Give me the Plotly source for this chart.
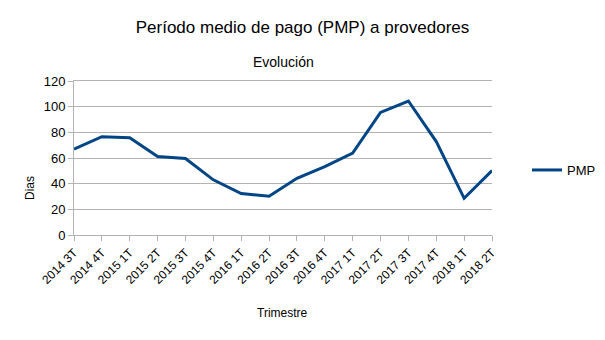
import plotly.graph_objects as go

trimestres = ["2014 3T", "2014 4T", "2015 1T", "2015 2T", "2015 3T", "2015 4T",
              "2016 1T", "2016 2T", "2016 3T", "2016 4T", "2017 1T", "2017 2T",
              "2017 3T", "2017 4T", "2018 1T", "2018 2T"]
pmp = [67.0, 76.6, 75.8, 61.2, 59.6, 43.0, 32.3, 30.2, 44.2, 53.3, 63.8, 95.5,
       104.4, 72.8, 28.6, 50.2]

FONT = "Liberation Sans, Arial, sans-serif"
grid = "#b3b3b3"
L, R, T, B = 74, 113, 81, 105
PW, PH = 605 - L - R, 340 - T - B

def px_x(x):
    return (x - L) / PW

def px_y(y):
    return (340 - B - y) / PH

fig = go.Figure()
fig.add_trace(go.Scatter(x=trimestres, y=pmp, mode="lines", name="PMP",
                         line=dict(color="#004586", width=3)))

fig.update_layout(
    width=605, height=340,
    margin=dict(l=L, r=R, t=T, b=B, autoexpand=False),
    paper_bgcolor="white", plot_bgcolor="white",
    font=dict(family=FONT, color="black"),
    title=dict(text="Período medio de pago (PMP) a provedores", x=0.5, xanchor="center",
               y=1 - 27 / 340, yanchor="middle", font=dict(size=17, family=FONT)),
    showlegend=True,
    legend=dict(x=px_x(527), xanchor="left", y=px_y(170), yanchor="middle",
                font=dict(size=13, family=FONT), bgcolor="rgba(0,0,0,0)"),
    annotations=[
        dict(text="Evolución", xref="paper", yref="paper", x=0.5, y=px_y(62),
             xanchor="center", yanchor="middle", showarrow=False,
             font=dict(size=14, family=FONT)),
        dict(text="Dias", xref="paper", yref="paper", x=px_x(30), y=px_y(188),
             xanchor="center", yanchor="middle", textangle=-90, showarrow=False,
             font=dict(size=12, family=FONT)),
        dict(text="Trimestre", xref="paper", yref="paper", x=px_x(282), y=px_y(313),
             xanchor="center", yanchor="middle", showarrow=False,
             font=dict(size=12, family=FONT)),
    ],
)
fig.update_xaxes(
    type="category", range=[0, len(trimestres) - 1], automargin=False,
    showgrid=False, showline=True, linecolor=grid, linewidth=1, mirror=True,
    ticks="outside", ticklen=5, tickcolor=grid, tickangle=-45,
    tickfont=dict(size=12, family=FONT),
)
fig.update_yaxes(
    range=[0, 120], dtick=20, automargin=False, showgrid=True, gridcolor=grid, gridwidth=1,
    showline=True, linecolor=grid, linewidth=1, zeroline=False,
    ticks="outside", ticklen=5, tickcolor=grid,
    tickfont=dict(size=13, family=FONT),
)

fig.write_html("out.html")
